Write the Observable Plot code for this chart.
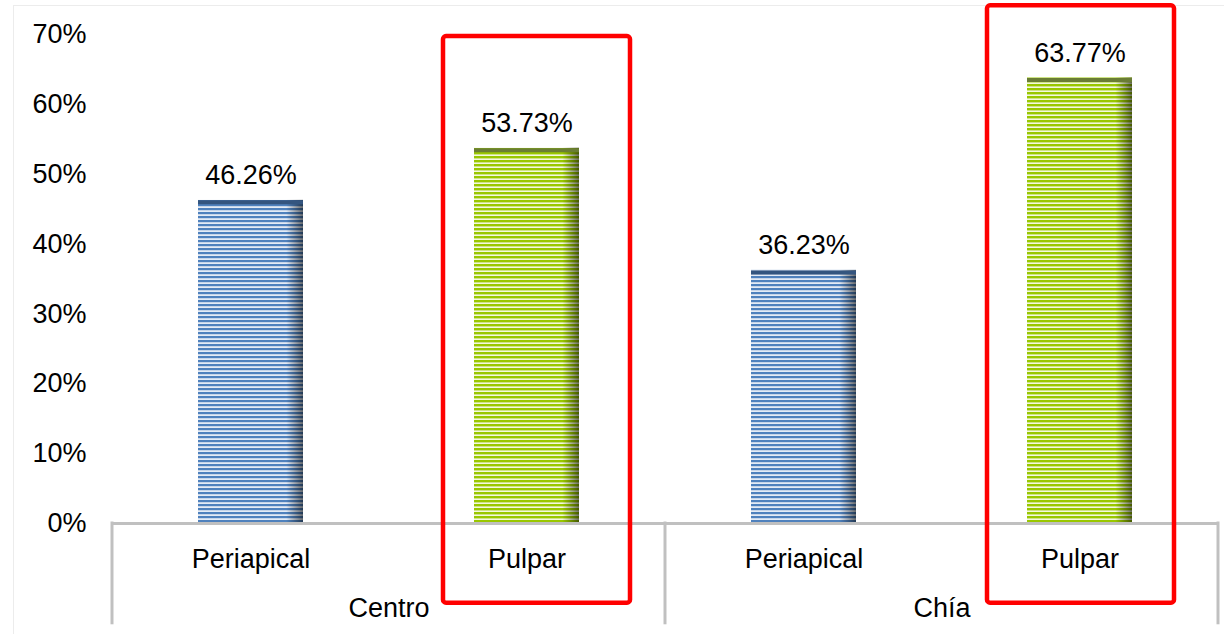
<!DOCTYPE html>
<html>
<head>
<meta charset="utf-8">
<script src="https://cdn.jsdelivr.net/npm/d3@7"></script>
<script src="https://cdn.jsdelivr.net/npm/@observablehq/plot@0.6"></script>
<style>
  html, body { margin: 0; padding: 0; background: #fff; overflow: hidden; }
  #wrap { position: relative; width: 1224px; height: 634px; }
  #border { position: absolute; left: 13px; top: 5px; width: 1230px; height: 660px; border: 1px solid #ececec; pointer-events: none; }
  #chart { position: absolute; left: 0; top: 0; }
</style>
</head>
<body>
<div id="wrap"><div id="border"></div><div id="chart"></div></div>
<script>
// ---- data ----
const groups = ["Centro", "Chía"];
const categories = ["Periapical", "Pulpar"];
const centroValues = [46.26, 53.73];
const chiaValues = [36.23, 63.77];
const yTicks = [0, 10, 20, 30, 40, 50, 60, 70];
const highlightGroups = ["Centro", "Chía"];
const highlightCategory = "Pulpar";
const highlightTops = [69.7, 74.1];
const highlightBottom = -11.4;
const separatorBottom = -14.5;

const seriesByGroup = [centroValues, chiaValues];
const data = groups.flatMap((g, i) => categories.map((c, j) => ({group: g, category: c, value: seriesByGroup[i][j]})));
const boxes = highlightGroups.map((g, i) => ({group: g, category: highlightCategory, top: highlightTops[i], bottom: highlightBottom}));

const font = "'Liberation Sans', Arial, sans-serif";
const fs = 27;

const boxStyle = {fx: "group", x: "category", y1: "bottom", y2: "top", fill: "none", stroke: "#ff0000", strokeWidth: 4.5, rx: 3};

const chart = Plot.plot({
  width: 1224,
  height: 634,
  marginLeft: 111,
  marginRight: 6,
  marginTop: 34,
  marginBottom: 111,
  style: {fontFamily: font, fontSize: fs + "px", color: "#000", background: "transparent", overflow: "visible"},
  fx: {domain: groups, padding: 0, label: null},
  x: {domain: categories, paddingInner: 0.62, paddingOuter: 0.31, label: null},
  y: {domain: [0, 70], label: null},
  color: {domain: categories, range: ["url(#stripeBlue)", "url(#stripeGreen)"]},
  marks: [
    Plot.axisY({ticks: yTicks, tickSize: 0, tickPadding: 26, tickFormat: d => d + "%", fontSize: fs, label: null}),
    Plot.axisX({anchor: "bottom", tickSize: 0, tickPadding: 25, fontSize: fs, label: null}),
    Plot.axisFx({anchor: "bottom", tickSize: 0, tickPadding: 74, fontSize: fs, label: null}),
    Plot.barY(data, {fx: "group", x: "category", y: "value", fill: "category"}),
    Plot.barY(data, {fx: "group", x: "category", y: "value", fill: "url(#shadeR)"}),
    Plot.tickY(data, {fx: "group", x: "category", y: "value", stroke: d => d.category, strokeWidth: 4, dy: 2}),
    Plot.text(data, {fx: "group", x: "category", y: "value", text: d => d.value.toFixed(2) + "%", lineAnchor: "bottom", dy: -16, fontSize: fs, fill: "#000"}),
    Plot.ruleY([0], {stroke: "#c0c0c0", strokeWidth: 3}),
    Plot.barY(boxes.filter(b => b.group === groups[0]), {...boxStyle, insetLeft: -31, insetRight: -51}),
    Plot.barY(boxes.filter(b => b.group === groups[1]), {...boxStyle, insetLeft: -40, insetRight: -42})
  ]
});

const svg = d3.select(chart);
svg.insert("defs", ":first-child").html(`
  <pattern id="stripeBlue" patternUnits="userSpaceOnUse" width="8" height="4">
    <rect width="8" height="4" fill="#e4ebf5"/>
    <rect width="8" height="2.2" fill="#4f81bd"/>
  </pattern>
  <pattern id="stripeGreen" patternUnits="userSpaceOnUse" width="8" height="4">
    <rect width="8" height="4" fill="#f3f8e0"/>
    <rect width="8" height="2.4" fill="#99c700"/>
  </pattern>
  <linearGradient id="shadeR" x1="0" x2="1" y1="0" y2="0">
    <stop offset="0.84" stop-color="#000" stop-opacity="0"/>
    <stop offset="1" stop-color="#000" stop-opacity="0.55"/>
  </linearGradient>
`);
// darker top bands for each bar colour
svg.selectAll("line").each(function() {
  const s = this.getAttribute("stroke");
  if (s === "url(#stripeBlue)") this.setAttribute("stroke", "#34557f");
  if (s === "url(#stripeGreen)") this.setAttribute("stroke", "#6a7d35");
});

// category separators from the fx and y scales
const fx = chart.scale("fx");
const y = chart.scale("y");
const edges = groups.map(g => fx.apply(g)).concat([fx.range[1]]);
svg.append("g").selectAll("line").data(edges).join("line")
  .attr("x1", d => d).attr("x2", d => d)
  .attr("y1", y.apply(0) - 1.5).attr("y2", y.apply(separatorBottom))
  .attr("stroke", "#c0c0c0").attr("stroke-width", 3);

document.getElementById("chart").appendChild(chart);
</script>
</body>
</html>
